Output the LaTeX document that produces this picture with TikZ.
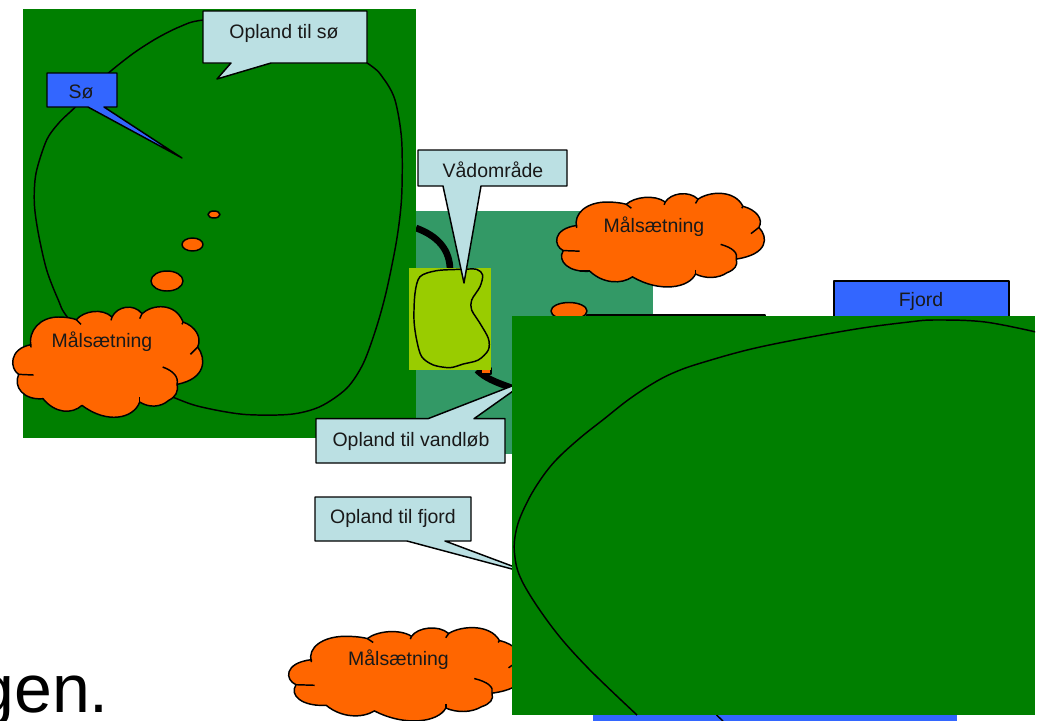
\documentclass[tikz,border=0pt]{standalone}
\usepackage{fontspec}
\setmainfont{Liberation Sans}
\definecolor{grn}{HTML}{007F00}
\definecolor{teal2}{HTML}{339966}
\definecolor{lime2}{HTML}{99CC00}
\definecolor{org}{HTML}{FF6600}
\definecolor{lblue}{HTML}{BBE0E3}
\definecolor{blu}{HTML}{3366FF}
\tikzset{
  outl/.style={draw=black,line width=1.1pt,line join=round},
  callout/.style={outl,fill=lblue},
  bluecall/.style={outl,fill=blu},
  orgfill/.style={outl,fill=org},
  lbl/.style={font=\fontsize{14.6pt}{16pt}\selectfont,text=black!90,inner sep=0pt},
}
\newcommand{\mycloud}[4]{%
\begin{scope}[shift={(#1,#2)},xscale=#3/572,yscale=#4/341,shift={(-38,-917)}]
\path[orgfill] (92,1040)
 .. controls (82,990) and (120,950) .. (175,950)
 .. controls (195,950) and (215,953) .. (228,958)
 .. controls (250,932) and (305,922) .. (335,950)
 .. controls (350,918) and (400,908) .. (425,940)
 .. controls (455,912) and (525,905) .. (548,965)
 .. controls (585,978) and (605,1010) .. (592,1040)
 .. controls (618,1075) and (618,1135) .. (530,1152)
 .. controls (535,1175) and (525,1190) .. (505,1200)
 .. controls (480,1222) and (445,1222) .. (418,1205)
 .. controls (400,1255) and (320,1272) .. (245,1215)
 .. controls (215,1242) and (165,1240) .. (128,1195)
 .. controls (70,1200) and (38,1160) .. (55,1122)
 .. controls (28,1105) and (25,1045) .. (92,1033) -- cycle;
\draw[outl] (228,958) -- (242,972);
\draw[outl] (335,950) -- (332,960);
\draw[outl] (425,940) -- (418,955);
\draw[outl] (548,965) -- (545,972);
\draw[outl] (592,1040) -- (570,1062);
\draw[outl] (487,1100) .. controls (520,1112) and (535,1130) .. (530,1152);
\draw[outl] (418,1190) -- (418,1205);
\draw[outl] (128,1195) -- (100,1195);
\draw[outl] (55,1122) -- (100,1124);
\end{scope}}
\begin{document}
\begin{tikzpicture}[x=0.75pt,y=-0.75pt]
\useasboundingbox[fill=white] (0,0) rectangle (1039,721);

% text fragment
\node[anchor=base east,inner sep=0pt,font=\fontsize{51pt}{53pt}\selectfont] (frag) at (109,712) {gen.};

% stream catchment
\fill[teal2] (416,211) rectangle (653,454);
\draw[line width=5pt,black] (416,228) .. controls (438,236) and (450,250) .. (450,270);
\draw[line width=5pt,black] (477,370) .. controls (485,378) and (495,382) .. (512,388);
\path[orgfill] (481,368) rectangle (491,374);

% hidden shapes under the large green area
\path[outl,fill=white] (587,315) rectangle (765,330);
\draw[orgfill] (569,311) ellipse (18 and 8.5);
\path[bluecall] (834,281) rectangle (1009,330);
\node[lbl] (fjord) at (921,301) {Fjord};
\fill[blu] (593,700) rectangle (957,721);
\draw[outl] (716.5,715) -- (723,721);

% left green area
\fill[grn] (23,9) rectangle (416,438);
\begin{scope}[scale=1/3]
\draw[outl] plot[smooth cycle,tension=0.5] coordinates {
 (330,215) (400,160) (470,115) (540,80) (610,60) (860,40) (1100,188) (1150,235) (1185,300)
 (1205,420) (1205,590) (1190,720) (1160,870) (1130,980) (1090,1090) (1040,1165)
 (960,1220) (870,1243) (730,1243) (600,1220) (520,1192) (350,1120) (205,955) (175,900) (140,810)
 (115,700) (103,610) (108,520) (140,420) (180,365) (225,322) (280,260)};
\end{scope}
\draw[orgfill] (214,214.5) ellipse (6 and 3.5);
\draw[orgfill] (192.5,244.5) ellipse (10.5 and 6.5);
\draw[orgfill] (167,281) ellipse (16 and 10);
\mycloud{13}{306}{190.7}{113.7}
\node[lbl] (mal1) at (102,342) {Målsætning};

% wetland
\fill[lime2] (409,268) rectangle (491,370);
\begin{scope}[shift={(400,140)},scale=1/3]
\draw[outl] plot[smooth cycle,tension=0.5] coordinates {
 (60,410) (110,392) (185,388) (230,388) (248,405) (240,440) (215,480) (215,510)
 (240,550) (265,595) (265,630) (235,660) (190,672) (150,683) (100,675) (65,650)
 (50,600) (42,540) (45,460)};
\end{scope}

% second cloud
\mycloud{557}{192.7}{208.5}{96.3}
\node[lbl] (mal2) at (654,227) {Målsætning};

% third cloud
\mycloud{289}{627}{236}{96}
\node[lbl] (mal3) at (398.5,660) {Målsætning};

% callouts
\path[callout] (203,11) -- (367,11) -- (367,63) -- (271,63) -- (217,79) -- (231,63) -- (203,63) -- cycle;
\node[lbl] (c1) at (284,33) {Opland til sø};
\path[bluecall] (47,73) -- (117,73) -- (117,107) -- (104,107) -- (182,158) -- (88,107) -- (47,107) -- cycle;
\node[lbl] (c2) at (81,92) {Sø};
\path[callout] (418,150) -- (567,150) -- (567,186) -- (481,186) -- (464,283) -- (443,186) -- (418,186) -- cycle;
\node[lbl] (c3) at (493,170) {Vådområde};
\path[callout] (316,418.7) -- (428,418.7) -- (530,379) -- (474,418.7) -- (505,418.7) -- (505,463) -- (316,463) -- cycle;
\node[lbl] (c4) at (411,441) {Opland til vandløb};
\path[callout] (315,497) -- (471,497) -- (471,541) -- (445,541) -- (540,576.5) -- (407,541) -- (315,541) -- cycle;
\node[lbl] (c5) at (393,518) {Opland til fjord};

% large green area on top
\fill[grn] (512,316) rectangle (1035,715);
\begin{scope}
\clip (512,316) rectangle (1035,715);
\draw[outl] plot[smooth,tension=0.6] coordinates {
 (1039,332.7) (985,322) (936,320) (909,322) (850,330) (760,347) (701,363) (673,373) (652,384)
 (628,400) (604,419) (580,438) (557,459) (541.6,478) (527.7,501) (517,527) (514.5,553)
 (522.5,582) (552,627) (587,667) (637,715)};
\end{scope}
\end{tikzpicture}
\end{document}
